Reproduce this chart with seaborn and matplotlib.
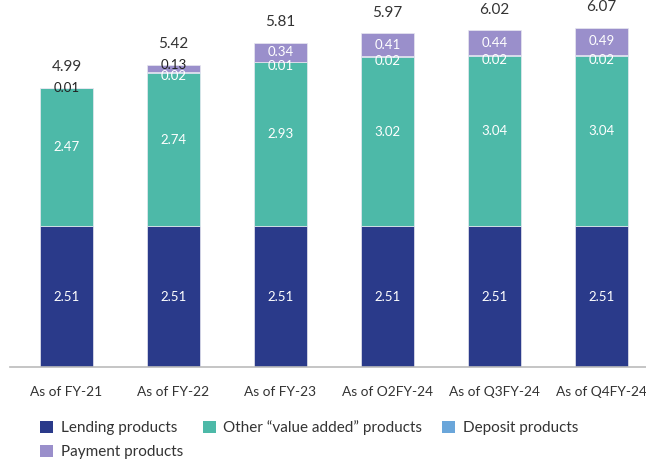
import matplotlib
matplotlib.use("Agg")
import matplotlib.pyplot as plt
import seaborn as sns
import numpy as np
from matplotlib.patches import Patch

categories = ["As of FY-21", "As of FY-22", "As of FY-23", "As of O2FY-24", "As of Q3FY-24", "As of Q4FY-24"]
lending = [2.51, 2.51, 2.51, 2.51, 2.51, 2.51]
other = [2.47, 2.74, 2.93, 3.02, 3.04, 3.04]
deposit = [0.00, 0.02, 0.01, 0.02, 0.02, 0.02]
payment = [0.01, 0.13, 0.34, 0.41, 0.44, 0.49]
totals = ["4.99", "5.42", "5.81", "5.97", "6.02", "6.07"]
series_names = ["Lending products", "Other \u201cvalue added\u201d products", "Deposit products", "Payment products"]

colors = ["#2A3A8A", "#4DB9A8", "#6AA6DA", "#9A8FCB"]

sns.set_style("white")
plt.rcParams["font.family"] = ["Lato", "DejaVu Sans"]

fig = plt.figure(figsize=(6.46, 4.59), dpi=100)
W, H = 646, 459
left_px, right_px, top_px, base_px = 10, 646, 10, 367
ax = fig.add_axes([left_px / W, (H - base_px) / H, (right_px - left_px) / W, (base_px - top_px) / H])

series = [lending, other, deposit, payment]
bottom = np.zeros(len(categories))
for vals, col, name in zip(series, colors, series_names):
    sns.barplot(x=categories, y=vals, bottom=bottom.copy(), color=col, width=0.5,
                ax=ax, edgecolor="#E8E8F0", linewidth=0.5, saturation=1)
    bottom = bottom + np.array(vals)

ppu = 56.0
ax.set_ylim(0, (base_px - top_px) / ppu)
ax.set_xlim(-(66.5 - left_px) / 107, (right_px - 66.5) / 107)

lend = np.array(lending); oth = np.array(other); dep = np.array(deposit); pay = np.array(payment)
for i in range(len(categories)):
    ax.text(i, lend[i] / 2, f"{lend[i]:.2f}", ha="center", va="center", color="white", fontsize=9.5)
    ax.text(i, lend[i] + oth[i] / 2 + 0.18, f"{oth[i]:.2f}", ha="center", va="center", color="white", fontsize=9.5)
    top_teal = lend[i] + oth[i]
    if dep[i] > 0:
        ax.text(i, top_teal - 0.06, f"{dep[i]:.2f}", ha="center", va="center", color="white", fontsize=9.5)
    bar_top = top_teal + dep[i] + pay[i]
    if pay[i] < 0.2:
        pc = bar_top + 0.0
        pcol = "#222222"
    else:
        pc = top_teal + dep[i] + pay[i] / 2
        pcol = "white"
    ax.text(i, pc, f"{pay[i]:.2f}", ha="center", va="center", color=pcol, fontsize=9.5)
    ax.text(i, bar_top + 0.37, totals[i], ha="center", va="center", color="#333333", fontsize=11)

for s in ["top", "right", "left"]:
    ax.spines[s].set_visible(False)
ax.spines["bottom"].set_color("#BBBBBB")
ax.spines["bottom"].set_linewidth(1.2)
ax.set_yticks([])
ax.tick_params(axis="x", length=0, pad=14, labelsize=9.9, colors="#333333")
ax.set_xlabel("")

handles = [Patch(facecolor=c, edgecolor="none") for c in colors]
order = [0, 3, 1, 2]
ax.legend([handles[k] for k in order], [series_names[k] for k in order], ncol=3,
          loc="upper left", bbox_to_anchor=(24 / 636, -0.133), frameon=False,
          fontsize=11, handlelength=0.85, handleheight=0.85, handletextpad=0.5,
          columnspacing=1.3, labelspacing=0.62, borderaxespad=0, labelcolor="#333333")

fig.savefig("out.png", dpi=100)
